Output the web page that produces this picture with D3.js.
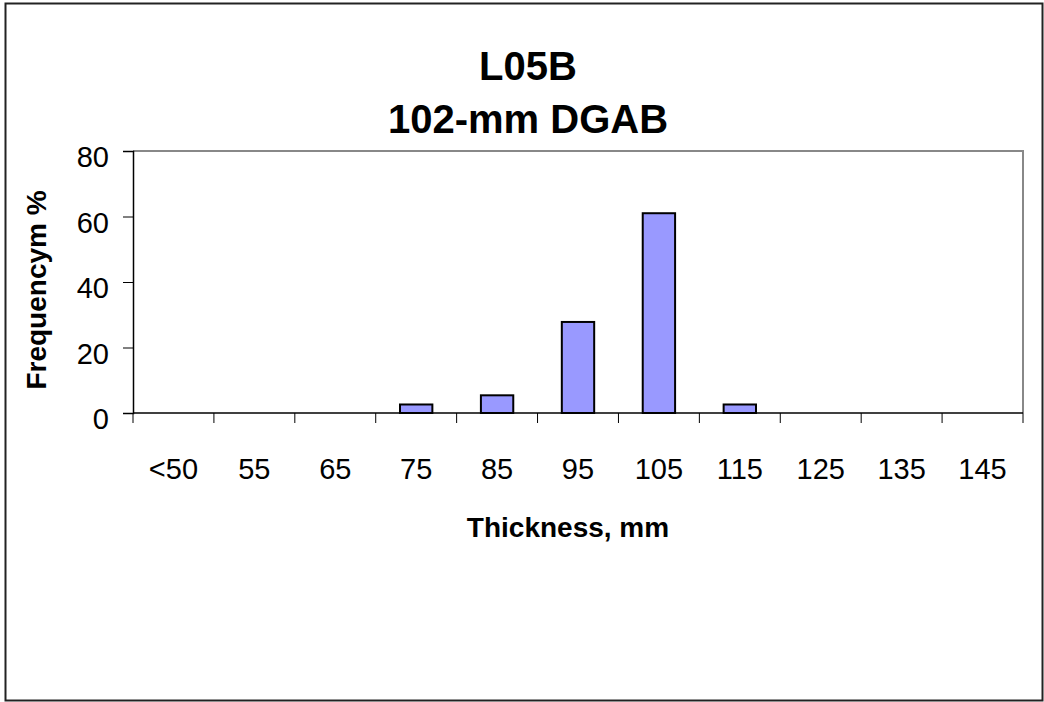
<!DOCTYPE html>
<html>
<head>
<meta charset="utf-8">
<script src="https://cdn.jsdelivr.net/npm/d3@7"></script>
<style>
  body { margin: 0; background: #fff; }
  text { font-family: Arial, "Liberation Sans", sans-serif; fill: #000; }
</style>
</head>
<body>
<div id="chart"></div>
<script>
// chart data
var categories = ["<50", "55", "65", "75", "85", "95", "105", "115", "125", "135", "145"];
var frequency = [0, 0, 0, 2.6, 5.4, 27.8, 61, 2.6, 0, 0, 0];
var yTicks = [0, 20, 40, 60, 80];
var titleLines = ["L05B", "102-mm DGAB"];

var width = 1044, height = 702;
var plot = {left: 133, right: 1023, top: 151, bottom: 413};

var svg = d3.select("#chart")
  .append("svg")
  .attr("width", width)
  .attr("height", height);

// outer chart border
svg.append("rect")
  .attr("x", 5.5).attr("y", 3.5)
  .attr("width", 1037).attr("height", 697)
  .attr("fill", "#fff")
  .attr("stroke", "#222")
  .attr("stroke-width", 2);

var xScale = d3.scaleBand()
  .domain(categories)
  .range([plot.left, plot.right]);

var yScale = d3.scaleLinear()
  .domain([0, 80])
  .range([plot.bottom, plot.top]);

// plot area frame (top and right in gray)
svg.append("path")
  .attr("d", "M" + plot.left + "," + plot.top + "H" + plot.right + "V" + plot.bottom)
  .attr("fill", "none")
  .attr("stroke", "#888")
  .attr("stroke-width", 2);

// bars
var data = categories.map(function (c, i) { return {cat: c, val: frequency[i]}; })
  .filter(function (d) { return d.val > 0; });

var bw = xScale.bandwidth();
svg.append("g")
  .selectAll("rect")
  .data(data)
  .enter()
  .append("rect")
  .attr("x", function (d) { return xScale(d.cat) + bw * 0.3; })
  .attr("width", bw * 0.4)
  .attr("y", function (d) { return yScale(d.val); })
  .attr("height", function (d) { return yScale(0) - yScale(d.val); })
  .attr("fill", "#9999ff")
  .attr("stroke", "#000")
  .attr("stroke-width", 2);

// y axis
var yAxis = d3.axisLeft(yScale)
  .tickValues(yTicks)
  .tickSize(10)
  .tickPadding(14);

var yg = svg.append("g")
  .attr("transform", "translate(" + plot.left + ",0)")
  .call(yAxis);
yg.select(".domain").attr("stroke", "#000").attr("stroke-width", 1.5);
yg.selectAll("text")
  .style("font-size", "29px")
  .attr("dy", "0.55em");

// x axis: ticks at category boundaries, labels at centers
var xg = svg.append("g")
  .attr("transform", "translate(0," + plot.bottom + ")");
xg.append("line")
  .attr("x1", plot.left).attr("x2", plot.right)
  .attr("stroke", "#000").attr("stroke-width", 1.5);
xg.selectAll(".tick")
  .data(categories.concat(["end"]))
  .enter()
  .append("line")
  .attr("class", "tick")
  .attr("x1", function (d, i) { return i < categories.length ? xScale(d) : plot.right; })
  .attr("x2", function (d, i) { return i < categories.length ? xScale(d) : plot.right; })
  .attr("y1", 0).attr("y2", 10)
  .attr("stroke", "#000");
xg.selectAll(".lbl")
  .data(categories)
  .enter()
  .append("text")
  .attr("class", "lbl")
  .attr("x", function (d) { return xScale(d) + bw / 2; })
  .attr("y", 66)
  .attr("text-anchor", "middle")
  .style("font-size", "29px")
  .text(function (d) { return d; });

// titles
svg.selectAll(".title")
  .data(titleLines)
  .enter()
  .append("text")
  .attr("class", "title")
  .attr("x", 528)
  .attr("y", function (d, i) { return 80 + i * 53; })
  .attr("text-anchor", "middle")
  .style("font-size", "40px")
  .style("font-weight", "bold")
  .text(function (d) { return d; });

svg.append("text")
  .attr("x", 568)
  .attr("y", 537)
  .attr("text-anchor", "middle")
  .style("font-size", "28px")
  .style("font-weight", "bold")
  .text("Thickness, mm");

svg.append("text")
  .attr("transform", "translate(46,290) rotate(-90)")
  .attr("text-anchor", "middle")
  .style("font-size", "28px")
  .style("font-weight", "bold")
  .text("Frequencym %");
</script>
</body>
</html>
